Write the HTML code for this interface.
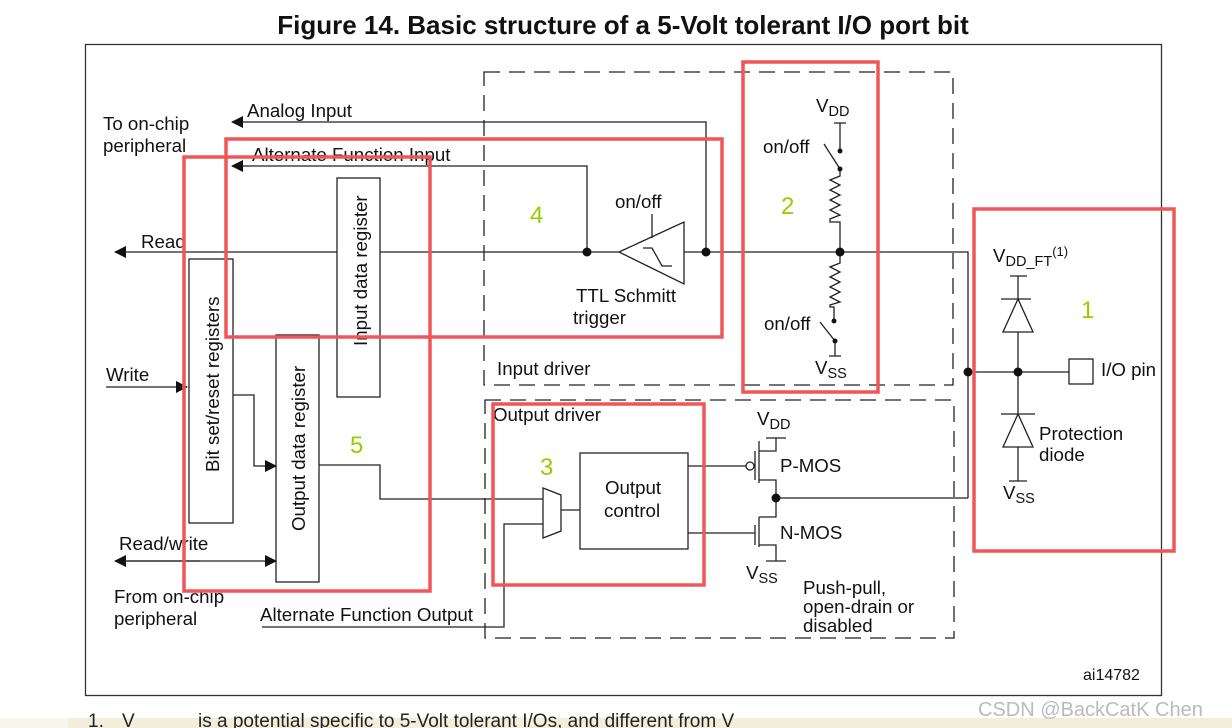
<!DOCTYPE html>
<html><head><meta charset="utf-8"><style>
html,body{margin:0;padding:0;background:#fff;}
svg{display:block;font-family:"Liberation Sans",Arial,sans-serif;}
</style></head><body>
<svg width="1232" height="728" viewBox="0 0 1232 728" xmlns="http://www.w3.org/2000/svg">
<defs>
<marker id="ar" markerWidth="12" markerHeight="12" refX="11" refY="6" orient="auto" markerUnits="userSpaceOnUse"><path d="M0,0 L12,6 L0,12 z" fill="#111"/></marker>
</defs>
<rect x="0" y="0" width="1232" height="728" fill="#fff"/>
<rect x="0" y="718" width="1232" height="10" fill="#f3eedb"/>
<rect x="0" y="718" width="68" height="10" fill="#f8f5ea"/>
<text x="623" y="34" font-size="26" font-weight="bold" text-anchor="middle" fill="#111">Figure 14. Basic structure of a 5-Volt tolerant I/O port bit</text>
<g font-size="19" fill="#222">
<text x="88" y="727">1.</text><text x="122" y="727">V</text>
<text x="198" y="727">is a potential specific to 5-Volt tolerant I/Os, and different from V</text>
</g>
<text x="978" y="716" font-size="20" fill="#bbb">CSDN @BackCatK Chen</text>
<rect x="85.5" y="44.5" width="1076" height="651" fill="none" stroke="#333" stroke-width="1.3"/>

<g stroke="#222" stroke-width="1.3" fill="none">
<rect x="484" y="72" width="469" height="313" stroke-dasharray="16,9"/>
<rect x="485" y="400" width="469" height="238" stroke-dasharray="16,9"/>
<rect x="337" y="178" width="43" height="219"/>
<rect x="189" y="259" width="44" height="264"/>
<rect x="276" y="335" width="43" height="247"/>
<rect x="580" y="453" width="108" height="96"/>
<rect x="1069" y="359" width="24" height="25"/>
<path d="M706,252 V122 H232" marker-end="url(#ar)"/>
<path d="M587,252 V166 H232" marker-end="url(#ar)"/>
<path d="M337,252 H115" marker-end="url(#ar)"/>
<path d="M380,252 H619"/>
<path d="M684,252 H968 V498"/>
<path d="M106,387 H187" marker-end="url(#ar)"/>
<path d="M233,395 H254 V466 H276" marker-end="url(#ar)"/>
<path d="M127,561 H276" marker-end="url(#ar)"/>
<path d="M200,561 H115" marker-end="url(#ar)"/>
<path d="M319,465 H380 V499 H543"/>
<path d="M262,627 H504 V524 H543"/>
<path d="M561,510 H580"/>
<path d="M543,488 L561,495 L561,531 L543,538 Z"/>
<path d="M619,252 L684,222 L684,284 Z"/>
<path d="M652,214 V238"/>
<path d="M643,248 H652 L662,266 H672"/>
<path d="M834,123 H846 M840,123 V151"/>
<path d="M824,144 L840,169"/>
<path d="M840,169 V176 L830,180 L840,185 L830,190 L840,195 L830,200 L840,205 L830,210 L840,215 L830,219 V222 L840,222 V252"/>
<path d="M840,252 V263 L830,267 L840,272 L830,277 L840,282 L830,287 L840,292 L830,297 L840,302 L830,305 V307 L834,307 V321"/>
<path d="M820,322 L835,341 V356 M829,356 H841"/>
<path d="M688,466 H746"/>
<circle cx="750" cy="466" r="4"/>
<path d="M755,451 V480 M759,441 V483 M759,451 H776 V438 M766,438 H786 M759,480 H776 V517 H759 M759,517 V547 M755,525 V545 M688,533 H755 M759,545 H776 V561 M766,561 H786"/>
<path d="M776,498 H968"/>
<path d="M968,372 H1069"/>
<path d="M1010,276 H1027 M1018,276 V299 M1001,299 H1031 M1018,299 L1003,332 H1033 Z M1018,332 V414 M1001,414 H1035 M1018,414 L1003,447 H1033 Z M1018,447 V481 M1009,481 H1027"/>
</g>
<g fill="#111">
<circle cx="587" cy="252" r="4.5"/><circle cx="706" cy="252" r="4.5"/><circle cx="840" cy="252" r="4.5"/>
<circle cx="840" cy="151" r="2.5"/><circle cx="840" cy="169" r="2.5"/><circle cx="834" cy="321" r="2.5"/><circle cx="835" cy="341" r="2.5"/>
<circle cx="776" cy="498" r="4.5"/><circle cx="968" cy="372" r="4.5"/><circle cx="1018" cy="372" r="4.5"/>
</g>
<g font-size="18.7" fill="#111">
<text x="247" y="117">Analog Input</text>
<text x="103" y="130">To on-chip</text><text x="103" y="152">peripheral</text>
<text x="252" y="161">Alternate Function Input</text>
<text x="141" y="248">Read</text>
<text x="106" y="381">Write</text>
<text x="119" y="550">Read/write</text>
<text x="114" y="603">From on-chip</text><text x="114" y="625">peripheral</text>
<text x="260" y="621">Alternate Function Output</text>
<text transform="translate(367,346) rotate(-90)">Input data register</text>
<text transform="translate(219,472) rotate(-90)">Bit set/reset registers</text>
<text transform="translate(305,531) rotate(-90)">Output data register</text>
<text x="615" y="208">on/off</text>
<text x="576" y="302">TTL Schmitt</text><text x="573" y="324">trigger</text>
<text x="497" y="375">Input driver</text>
<text x="816" y="112">V<tspan font-size="14.5" dy="4">DD</tspan></text>
<text x="763" y="153">on/off</text>
<text x="764" y="330">on/off</text>
<text x="815" y="374">V<tspan font-size="14.5" dy="4">SS</tspan></text>
<text x="493" y="421">Output driver</text>
<text x="605" y="494">Output</text><text x="604" y="517">control</text>
<text x="757" y="425">V<tspan font-size="14.5" dy="4">DD</tspan></text>
<text x="780" y="472">P-MOS</text>
<text x="780" y="539">N-MOS</text>
<text x="746" y="579">V<tspan font-size="14.5" dy="4">SS</tspan></text>
<text x="803" y="594">Push-pull,</text><text x="803" y="613">open-drain or</text><text x="803" y="632">disabled</text>
<text x="993" y="262">V<tspan font-size="14.5" dy="4">DD_FT</tspan><tspan font-size="13" dy="-10">(1)</tspan></text>
<text x="1101" y="376">I/O pin</text>
<text x="1039" y="440">Protection</text><text x="1039" y="461">diode</text>
<text x="1003" y="499">V<tspan font-size="14.5" dy="4">SS</tspan></text>
<text x="1083" y="680" font-size="16">ai14782</text>
</g>
<g font-size="24" fill="#99cc00">
<text x="530" y="223">4</text><text x="781" y="214">2</text><text x="1081" y="318">1</text><text x="540" y="475">3</text><text x="350" y="453">5</text>
</g>
<g fill="none" stroke="#f05557" stroke-width="3.5">
<rect x="743" y="62" width="135" height="330"/>
<rect x="226" y="139" width="496" height="198"/>
<rect x="184" y="157" width="246" height="434"/>
<rect x="493" y="404" width="211" height="181"/>
<rect x="974" y="209" width="200" height="342"/>
</g>
</svg>
</body></html>
